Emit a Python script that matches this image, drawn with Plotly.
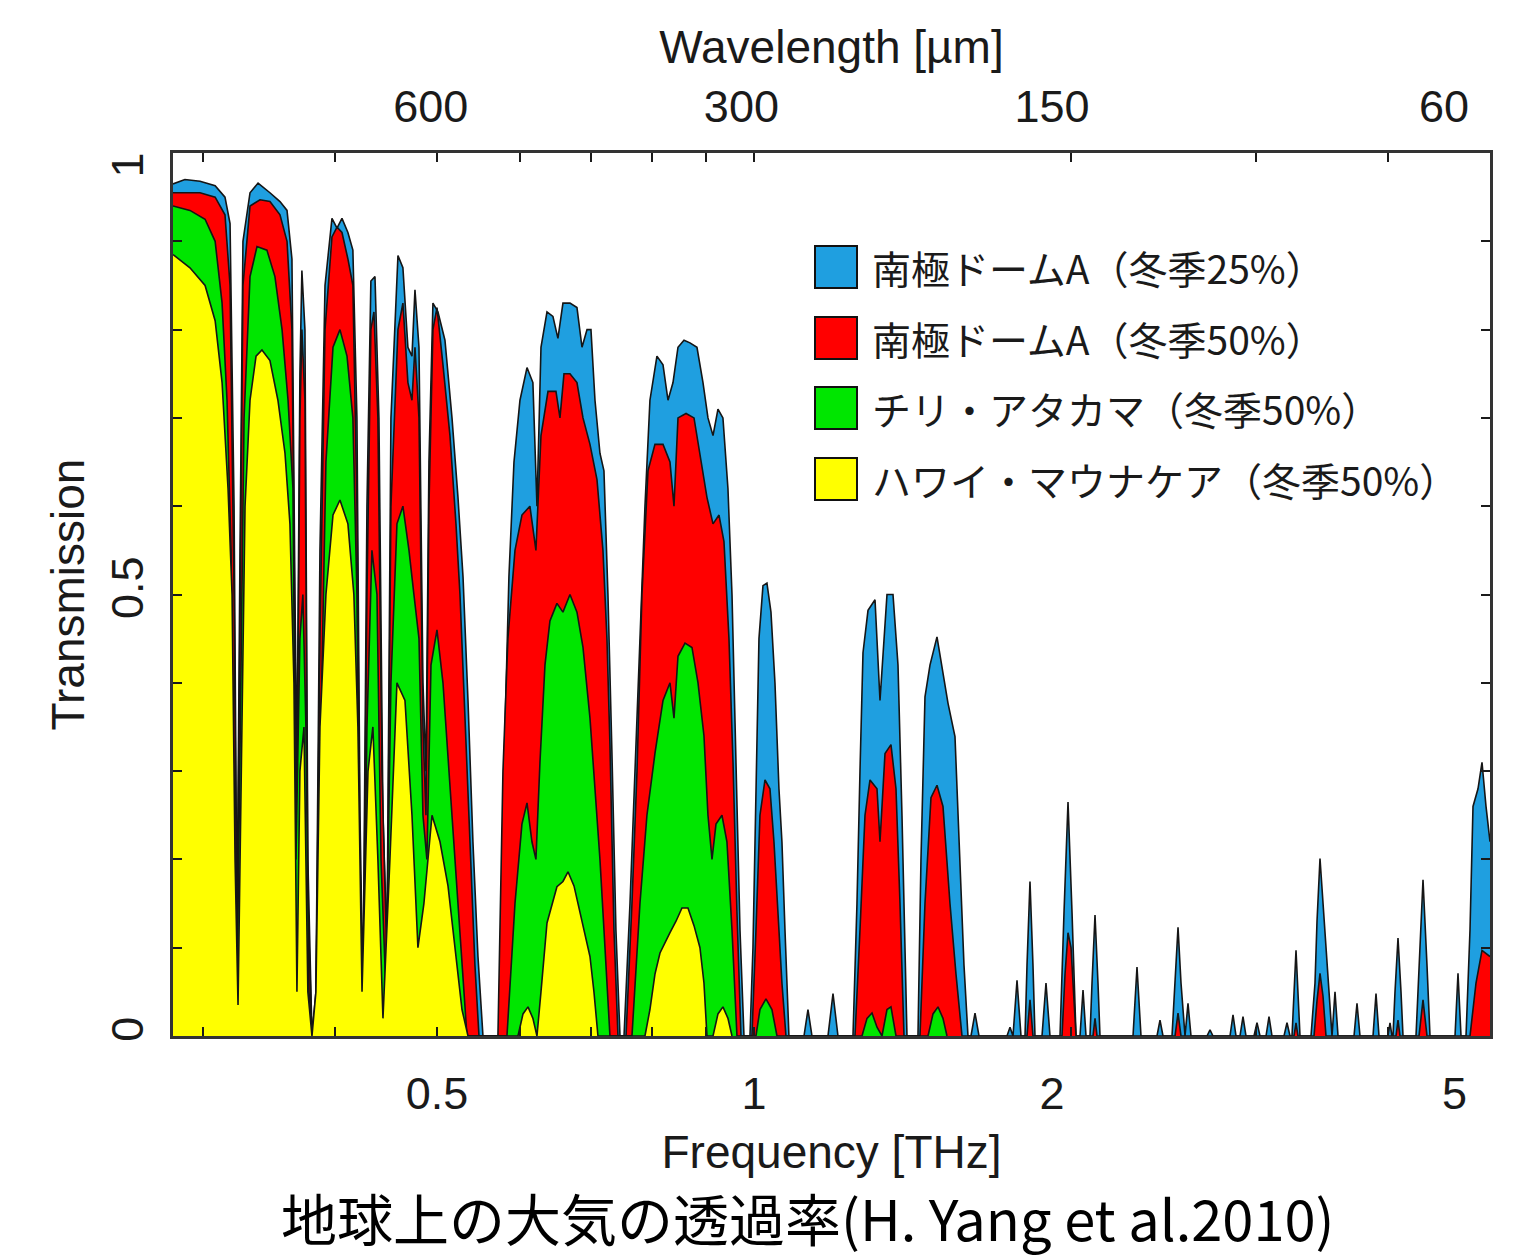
import math
import plotly.graph_objects as go

# ---------------- data (frequency in THz, transmission 0-1) ----------------
domeA25_freq = [
    0.2807, 0.2881, 0.2978, 0.3078, 0.3145, 0.3180, 0.3208, 0.3229, 0.3250, 0.3271,
    0.3322, 0.3381, 0.3470, 0.3547, 0.3602, 0.3641, 0.3665, 0.3681, 0.3705, 0.3721,
    0.3746, 0.3770, 0.3804, 0.3837, 0.3871, 0.3914, 0.3974, 0.4018, 0.4062, 0.4115,
    0.4160, 0.4197, 0.4225, 0.4253, 0.4290, 0.4327, 0.4366, 0.4404, 0.4443, 0.4482,
    0.4521, 0.4591, 0.4641, 0.4692, 0.4734, 0.4765, 0.4807, 0.4849, 0.4881, 0.4913,
    0.4956, 0.5011, 0.5088, 0.5167, 0.5235, 0.5293, 0.5351, 0.5409, 0.5469, 0.5529,
    0.5738, 0.5788, 0.5852, 0.5917, 0.5995, 0.6088, 0.6167, 0.6222, 0.6277, 0.6360,
    0.6443, 0.6514, 0.6586, 0.6688, 0.6791, 0.6866, 0.6942, 0.7002, 0.7064, 0.7141,
    0.7204, 0.7267, 0.7331, 0.7395, 0.7461,
    0.7527, 0.7626, 0.7710, 0.7794, 0.7880, 0.7966, 0.8089, 0.8197, 0.8287, 0.8378,
    0.8470, 0.8582, 0.8695, 0.8829, 0.8946, 0.9044, 0.9144, 0.9244, 0.9345, 0.9448,
    0.9532, 0.9615, 0.9700, 0.9785,
    0.9914, 0.9979, 1.0045, 1.0111, 1.0200, 1.0289, 1.0380, 1.0471, 1.0563, 1.0632,
    1.0703, 1.0796,
    1.1157, 1.1255, 1.1354, 1.1758, 1.1888, 1.2018,
    1.2419, 1.2528, 1.2611, 1.2694, 1.2834, 1.3032, 1.3175, 1.3378, 1.3555, 1.3704,
    1.3824, 1.3976,
    1.4316, 1.4410, 1.4537, 1.4697, 1.4924, 1.5088, 1.5287, 1.5523, 1.5694, 1.5832,
    1.5971, 1.6076, 1.6218, 1.6360,
    1.7393, 1.7508, 1.7623, 1.7778, 1.7934, 1.8092, 1.8171, 1.8290, 1.8410, 1.8491,
    1.8777, 1.8942, 1.9108, 1.9531, 1.9703, 1.9876, 2.0051, 2.0227, 2.0404, 2.0539,
    2.0674, 2.0855, 2.0947, 2.1085, 2.1223, 2.1316, 2.2912, 2.3113, 2.3316, 2.4146,
    2.4305, 2.4465, 2.4952, 2.5117, 2.5282, 2.5448, 2.5672, 2.5840, 2.6010, 2.6936,
    2.7114, 2.7293, 2.8326, 2.8513, 2.8701, 2.8952, 2.9143, 2.9335, 2.9852, 3.0049,
    3.0247, 3.0647, 3.0849, 3.1052, 3.1877, 3.2087, 3.2298, 3.2440, 3.2725, 3.3012,
    3.3816, 3.4113, 3.4263, 3.4488, 3.4715, 3.4944, 3.5174, 3.5406, 3.5639, 3.5874,
    3.7151, 3.7395, 3.7641, 3.8727, 3.8982, 3.9238, 4.0018, 4.0193, 4.0369, 4.0458,
    4.0635, 4.0903, 4.1172, 4.1353, 4.2545, 4.2825, 4.3202, 4.3581, 4.3868, 4.6334,
    4.6638, 4.6946, 4.7462, 4.7878, 4.8194, 4.8723, 4.9152, 4.9584, 5.0019,
]
domeA25_trans = [
    0.965, 0.970, 0.968, 0.963, 0.950, 0.920, 0.600, 0.120, 0.550, 0.900,
    0.955, 0.966, 0.955, 0.945, 0.935, 0.880, 0.500, 0.300, 0.750, 0.867,
    0.800, 0.200, 0.000, 0.050, 0.550, 0.850, 0.926, 0.915, 0.926, 0.910,
    0.890, 0.700, 0.250, 0.050, 0.600, 0.855, 0.860, 0.700, 0.250, 0.100,
    0.700, 0.884, 0.870, 0.780, 0.770, 0.845, 0.780, 0.400, 0.300, 0.650,
    0.830, 0.820, 0.788, 0.700, 0.610, 0.520, 0.380, 0.220, 0.090, 0.000,
    0.000, 0.300, 0.520, 0.650, 0.720, 0.757, 0.740, 0.600, 0.780, 0.820,
    0.815, 0.790, 0.830, 0.830, 0.825, 0.780, 0.800, 0.800, 0.720, 0.660,
    0.640, 0.500, 0.320, 0.120, 0.000,
    0.000, 0.150, 0.300, 0.450, 0.600, 0.720, 0.770, 0.760, 0.720, 0.740,
    0.780, 0.788, 0.785, 0.780, 0.740, 0.700, 0.680, 0.710, 0.700, 0.620,
    0.500, 0.310, 0.120, 0.000,
    0.000, 0.100, 0.300, 0.450, 0.510, 0.513, 0.480, 0.400, 0.280, 0.220,
    0.120, 0.000,
    0.000, 0.030, 0.000, 0.000, 0.048, 0.000,
    0.000, 0.150, 0.300, 0.434, 0.482, 0.494, 0.380, 0.500, 0.500, 0.420,
    0.250, 0.000,
    0.000, 0.200, 0.384, 0.420, 0.452, 0.420, 0.377, 0.339, 0.200, 0.080,
    0.000, 0.000, 0.026, 0.000,
    0.000, 0.010, 0.000, 0.063, 0.000, 0.000, 0.080, 0.175, 0.080, 0.000,
    0.000, 0.060, 0.000, 0.000, 0.140, 0.265, 0.140, 0.000, 0.000, 0.052,
    0.000, 0.000, 0.060, 0.137, 0.060, 0.000, 0.000, 0.078, 0.000, 0.000,
    0.018, 0.000, 0.000, 0.070, 0.123, 0.060, 0.000, 0.037, 0.000, 0.000,
    0.007, 0.000, 0.000, 0.024, 0.000, 0.000, 0.022, 0.000, 0.000, 0.015,
    0.000, 0.000, 0.022, 0.000, 0.000, 0.015, 0.000, 0.000, 0.097, 0.000,
    0.000, 0.060, 0.130, 0.201, 0.150, 0.090, 0.050, 0.000, 0.050, 0.000,
    0.000, 0.037, 0.000, 0.000, 0.048, 0.000, 0.000, 0.015, 0.000, 0.000,
    0.050, 0.111, 0.050, 0.000, 0.000, 0.080, 0.177, 0.080, 0.000, 0.000,
    0.071, 0.000, 0.000, 0.120, 0.260, 0.280, 0.310, 0.260, 0.220,
]

domeA50_freq = [
    0.2807, 0.2978, 0.3078, 0.3145, 0.3180, 0.3208, 0.3229, 0.3250, 0.3271, 0.3322,
    0.3395, 0.3470, 0.3547, 0.3602, 0.3641, 0.3665, 0.3681, 0.3705, 0.3721, 0.3746,
    0.3770, 0.3804, 0.3837, 0.3871, 0.3914, 0.3974, 0.4018, 0.4062, 0.4115, 0.4160,
    0.4197, 0.4225, 0.4253, 0.4290, 0.4327, 0.4356, 0.4394, 0.4433, 0.4482, 0.4521,
    0.4591, 0.4641, 0.4692, 0.4734, 0.4765, 0.4807, 0.4849, 0.4881, 0.4913, 0.4956,
    0.5000, 0.5066, 0.5144, 0.5212, 0.5258, 0.5316, 0.5374, 0.5433, 0.5481,
    0.5713, 0.5776, 0.5839, 0.5930, 0.6021, 0.6127, 0.6208, 0.6277, 0.6374, 0.6486,
    0.6543, 0.6601, 0.6688, 0.6791, 0.6881, 0.6987, 0.7095, 0.7188, 0.7251, 0.7299,
    0.7363, 0.7428,
    0.7560, 0.7659, 0.7744, 0.7828, 0.7932, 0.8054, 0.8197, 0.8323, 0.8396, 0.8470,
    0.8620, 0.8772, 0.8887, 0.9024, 0.9144, 0.9265, 0.9366, 0.9469, 0.9553, 0.9636,
    0.9721,
    0.9957, 1.0045, 1.0133, 1.0245, 1.0357, 1.0448, 1.0540, 1.0632, 1.0726,
    1.2474, 1.2611, 1.2750, 1.2890, 1.3089, 1.3175, 1.3320, 1.3495, 1.3644, 1.3764,
    1.3885,
    1.4379, 1.4537, 1.4729, 1.4924, 1.5121, 1.5354, 1.5557, 1.5763,
    1.8171, 1.8290, 1.8410, 1.9617, 1.9746, 1.9876, 2.0007, 2.0139, 2.0227, 2.0992,
    2.1085, 2.1177, 2.5117, 2.5282, 2.5448, 3.2582, 3.2725, 3.2868, 3.4039, 3.4263,
    3.4488, 3.4715, 3.4944, 4.0724, 4.0903, 4.1082, 4.2825, 4.3202, 4.3581, 4.7878,
    4.8511, 4.9152, 5.0019,
]
domeA50_trans = [
    0.955, 0.955, 0.950, 0.930, 0.850, 0.500, 0.090, 0.500, 0.850, 0.940,
    0.947, 0.945, 0.930, 0.900, 0.800, 0.450, 0.250, 0.700, 0.800, 0.720,
    0.150, 0.000, 0.040, 0.450, 0.800, 0.905, 0.916, 0.910, 0.880, 0.850,
    0.600, 0.200, 0.030, 0.500, 0.800, 0.820, 0.700, 0.300, 0.080, 0.600,
    0.800, 0.830, 0.740, 0.720, 0.780, 0.700, 0.350, 0.250, 0.600, 0.800,
    0.825, 0.760, 0.680, 0.580, 0.500, 0.360, 0.220, 0.080, 0.000,
    0.000, 0.300, 0.450, 0.550, 0.590, 0.600, 0.550, 0.680, 0.730, 0.730,
    0.700, 0.750, 0.750, 0.740, 0.700, 0.670, 0.630, 0.550, 0.450, 0.330,
    0.120, 0.000,
    0.000, 0.150, 0.300, 0.500, 0.640, 0.670, 0.670, 0.650, 0.600, 0.700,
    0.705, 0.700, 0.660, 0.610, 0.580, 0.590, 0.560, 0.450, 0.310, 0.140,
    0.000,
    0.000, 0.120, 0.250, 0.290, 0.280, 0.220, 0.140, 0.060, 0.000,
    0.000, 0.120, 0.250, 0.290, 0.280, 0.220, 0.320, 0.330, 0.280, 0.150,
    0.000,
    0.000, 0.150, 0.270, 0.284, 0.260, 0.150, 0.070, 0.000,
    0.000, 0.041, 0.000, 0.000, 0.070, 0.117, 0.100, 0.040, 0.000, 0.000,
    0.020, 0.000, 0.000, 0.026, 0.000, 0.000, 0.015, 0.000, 0.000, 0.040,
    0.071, 0.045, 0.000, 0.000, 0.018, 0.000, 0.000, 0.041, 0.000, 0.000,
    0.060, 0.097, 0.090,
]

atacama_freq = [
    0.2807, 0.2913, 0.3011, 0.3078, 0.3125, 0.3159, 0.3187, 0.3208, 0.3229, 0.3250,
    0.3279, 0.3322, 0.3373, 0.3447, 0.3508, 0.3563, 0.3610, 0.3649, 0.3673, 0.3705,
    0.3729, 0.3754, 0.3779, 0.3812, 0.3845, 0.3879, 0.3922, 0.3983, 0.4044, 0.4107,
    0.4160, 0.4197, 0.4225, 0.4253, 0.4290, 0.4337, 0.4385, 0.4424, 0.4472, 0.4521,
    0.4581, 0.4641, 0.4703, 0.4754, 0.4807, 0.4849, 0.4891, 0.4935, 0.5000, 0.5066,
    0.5133, 0.5201, 0.5270, 0.5339,
    0.5827, 0.5930, 0.6021, 0.6088, 0.6154, 0.6208, 0.6263, 0.6332, 0.6401, 0.6500,
    0.6586, 0.6688, 0.6791, 0.6881, 0.6987, 0.7064, 0.7141, 0.7220, 0.7299,
    0.7659, 0.7794, 0.7914, 0.8054, 0.8197, 0.8323, 0.8396, 0.8470, 0.8601, 0.8733,
    0.8849, 0.8965, 0.9044, 0.9124, 0.9204, 0.9325, 0.9427, 0.9532, 0.9636,
    1.0045, 1.0133, 1.0267, 1.0402, 1.0517,
    1.2666, 1.2806, 1.2947, 1.3089, 1.3233, 1.3378, 1.3495, 1.3644,
    1.4633, 1.4794, 1.4957, 1.5121, 1.5254,
]
atacama_trans = [
    0.940, 0.935, 0.925, 0.900, 0.830, 0.720, 0.550, 0.250, 0.050, 0.300,
    0.700, 0.860, 0.894, 0.890, 0.860, 0.800, 0.720, 0.620, 0.200, 0.450,
    0.500, 0.350, 0.050, 0.000, 0.030, 0.350, 0.650, 0.780, 0.800, 0.770,
    0.700, 0.500, 0.150, 0.020, 0.350, 0.550, 0.500, 0.200, 0.050, 0.400,
    0.580, 0.600, 0.550, 0.500, 0.450, 0.250, 0.200, 0.420, 0.460, 0.400,
    0.300, 0.200, 0.100, 0.000,
    0.000, 0.150, 0.240, 0.264, 0.220, 0.200, 0.310, 0.420, 0.470, 0.490,
    0.480, 0.500, 0.480, 0.440, 0.360, 0.280, 0.200, 0.100, 0.000,
    0.000, 0.150, 0.250, 0.320, 0.380, 0.400, 0.360, 0.430, 0.445, 0.440,
    0.400, 0.340, 0.250, 0.200, 0.240, 0.250, 0.220, 0.120, 0.000,
    0.000, 0.030, 0.042, 0.030, 0.000,
    0.000, 0.020, 0.026, 0.010, 0.000, 0.030, 0.033, 0.000,
    0.000, 0.025, 0.033, 0.020, 0.000,
]

maunakea_freq = [
    0.2807, 0.2913, 0.3011, 0.3078, 0.3125, 0.3166, 0.3194, 0.3215, 0.3236, 0.3257,
    0.3286, 0.3322, 0.3366, 0.3410, 0.3470, 0.3531, 0.3586, 0.3625, 0.3657, 0.3681,
    0.3705, 0.3738, 0.3770, 0.3804, 0.3837, 0.3871, 0.3922, 0.3983, 0.4044, 0.4115,
    0.4169, 0.4206, 0.4244, 0.4300, 0.4346, 0.4394, 0.4443, 0.4511, 0.4581, 0.4662,
    0.4734, 0.4796, 0.4859, 0.4946, 0.5033, 0.5122, 0.5201, 0.5281, 0.5351,
    0.5969, 0.6035, 0.6101, 0.6167, 0.6222, 0.6277, 0.6360, 0.6500, 0.6586, 0.6659,
    0.6747, 0.6836, 0.6911, 0.6987, 0.7048, 0.7110,
    0.7880, 0.7966, 0.8054, 0.8143, 0.8323, 0.8433, 0.8544, 0.8657, 0.8772, 0.8887,
    0.8965, 0.9024, 0.9144, 0.9244, 0.9345, 0.9448, 0.9532,
]
maunakea_trans = [
    0.885, 0.870, 0.850, 0.810, 0.740, 0.620, 0.500, 0.200, 0.035, 0.300,
    0.600, 0.720, 0.770, 0.777, 0.765, 0.720, 0.660, 0.580, 0.400, 0.050,
    0.300, 0.350, 0.050, 0.000, 0.050, 0.350, 0.500, 0.590, 0.607, 0.580,
    0.500, 0.350, 0.050, 0.300, 0.350, 0.200, 0.020, 0.200, 0.400, 0.380,
    0.250, 0.100, 0.150, 0.250, 0.220, 0.170, 0.100, 0.030, 0.000,
    0.000, 0.025, 0.033, 0.020, 0.000, 0.050, 0.128, 0.169, 0.175, 0.186,
    0.170, 0.140, 0.115, 0.090, 0.050, 0.000,
    0.000, 0.030, 0.070, 0.094, 0.117, 0.130, 0.145, 0.145, 0.125, 0.100,
    0.060, 0.000, 0.000, 0.025, 0.033, 0.020, 0.000,
]

series_names = [
    "南極ドームA（冬季25%）",
    "南極ドームA（冬季50%）",
    "チリ・アタカマ（冬季50%）",
    "ハワイ・マウナケア（冬季50%）",
]
series_colors = ["#1f9fe0", "#ff0000", "#00e600", "#ffff00"]

NB = "\u00a0"
freq_ticks = [0.5, 1, 2, 5]
# tick labels sit slightly left of their ticks in the original figure
freq_tick_labels = ["0.5", "1", "2" + NB * 3, ""]
wavelength_tick_labels = ["600" + NB, "300" + NB * 2, "150" + NB * 3, ""]
edge_freq = 5
edge_freq_label = "5"
edge_wavelength_label = "60"
freq_minor_ticks = [0.3, 0.4, 0.6, 0.7, 0.8, 0.9, 3, 4]
trans_ticks = [0, 0.5, 1]
trans_tick_labels = ["0", "0.5", "1" + NB * 3]
trans_minor_ticks = [0.1, 0.2, 0.3, 0.4, 0.6, 0.7, 0.8, 0.9]
freq_range = [0.2807, 5.0019]

caption = "地球上の大気の透過率(H. Yang et al.2010)"

# ---------------- figure ----------------
W, H = 1527, 1257
PL, PR, PT, PB = 173, 1490, 153, 1036   # plot box in pixels


def px_x(px):
    return (px - PL) / (PR - PL)


def px_y(py):
    return (PB - py) / (PB - PT)


AX_FONT = "Liberation Sans, Arial, Helvetica, sans-serif"
JP_FONT = "Noto Sans CJK JP, sans-serif"
INK = "#1a1a1a"

fig = go.Figure()
all_series = [
    (domeA25_freq, domeA25_trans),
    (domeA50_freq, domeA50_trans),
    (atacama_freq, atacama_trans),
    (maunakea_freq, maunakea_trans),
]
for (fx, ty), name, col in zip(all_series, series_names, series_colors):
    fig.add_trace(go.Scatter(
        x=fx, y=ty, name=name, mode="lines", fill="tozeroy",
        fillcolor=col, line=dict(color="#151515", width=1.6),
        showlegend=False, hoverinfo="skip",
    ))

# invisible trace to anchor the top / right mirror axes
fig.add_trace(go.Scatter(
    x=domeA25_freq, y=domeA25_trans, xaxis="x2", yaxis="y2", mode="lines",
    line=dict(width=0), opacity=0, showlegend=False, hoverinfo="skip",
))

lr = [math.log10(freq_range[0]), math.log10(freq_range[1])]
tick_common = dict(ticks="inside", ticklen=9, tickwidth=2, tickcolor=INK,
                   showline=True, linecolor="#333333", linewidth=2.5,
                   showgrid=False, zeroline=False, automargin=False)
minor_common = dict(tickmode="array", ticks="inside", ticklen=9, tickwidth=2,
                    tickcolor=INK)
tick_font = dict(family=AX_FONT, size=45, color=INK)
title_font = dict(family=AX_FONT, size=46, color=INK)

fig.update_layout(
    width=W, height=H,
    margin=dict(l=PL, r=W - PR, t=PT, b=H - PB, pad=0, autoexpand=False),
    paper_bgcolor="white", plot_bgcolor="white",
    showlegend=False,
    xaxis=dict(
        type="log", range=lr, tickmode="array", tickvals=freq_ticks,
        ticktext=freq_tick_labels, ticklabeloverflow="allow",
        tickfont=tick_font, ticklabelstandoff=16,
        minor=dict(tickvals=freq_minor_ticks, **minor_common),
        title=dict(text="Frequency [THz]", font=title_font, standoff=19),
        **tick_common,
    ),
    xaxis2=dict(
        type="log", range=lr, overlaying="x", side="top", anchor="y",
        tickmode="array", tickvals=freq_ticks, ticktext=wavelength_tick_labels,
        ticklabeloverflow="allow",
        tickfont=tick_font, ticklabelstandoff=10,
        minor=dict(tickvals=freq_minor_ticks, **minor_common),
        title=dict(text="Wavelength [µm]", font=title_font, standoff=4),
        **tick_common,
    ),
    yaxis=dict(
        range=[0, 1], tickmode="array", tickvals=trans_ticks, ticktext=trans_tick_labels,
        tickangle=-90, ticklabeloverflow="allow",
        tickfont=tick_font, ticklabelstandoff=9,
        minor=dict(tickvals=trans_minor_ticks, **minor_common),
        title=dict(text="Transmission", font=title_font, standoff=4),
        **tick_common,
    ),
    yaxis2=dict(
        range=[0, 1], overlaying="y", side="right", anchor="x",
        tickmode="array", tickvals=trans_ticks, showticklabels=False,
        minor=dict(tickvals=trans_minor_ticks, **minor_common),
        **tick_common,
    ),
)

# labels of the right-most tick (placed left of the tick, as in the original)
fig.add_annotation(xref="x", yref="paper", x=math.log10(edge_freq), y=px_y(1093),
                   xshift=-35, xanchor="center", yanchor="middle", showarrow=False,
                   text=edge_freq_label, font=tick_font)
fig.add_annotation(xref="x", yref="paper", x=math.log10(edge_freq), y=px_y(107),
                   xshift=-46, xanchor="center", yanchor="middle", showarrow=False,
                   text=edge_wavelength_label, font=tick_font)

# custom legend (large square swatches)
legend_rows_py = [267, 338, 408, 479]
for name, col, cy in zip(series_names, series_colors, legend_rows_py):
    fig.add_shape(type="rect", xref="paper", yref="paper",
                  x0=px_x(815), x1=px_x(857), y0=px_y(cy + 21), y1=px_y(cy - 21),
                  fillcolor=col, line=dict(color="#111111", width=2), layer="above")
    fig.add_annotation(xref="paper", yref="paper", x=px_x(870), y=px_y(cy),
                       xanchor="left", yanchor="middle", showarrow=False,
                       text=name, font=dict(family=JP_FONT, size=39, color=INK))

fig.add_annotation(xref="paper", yref="paper", x=px_x(807), y=px_y(1216),
                   xanchor="center", yanchor="middle", showarrow=False,
                   text=caption, font=dict(family=JP_FONT, size=56, color="#000000"))

fig.write_html("out.html")
